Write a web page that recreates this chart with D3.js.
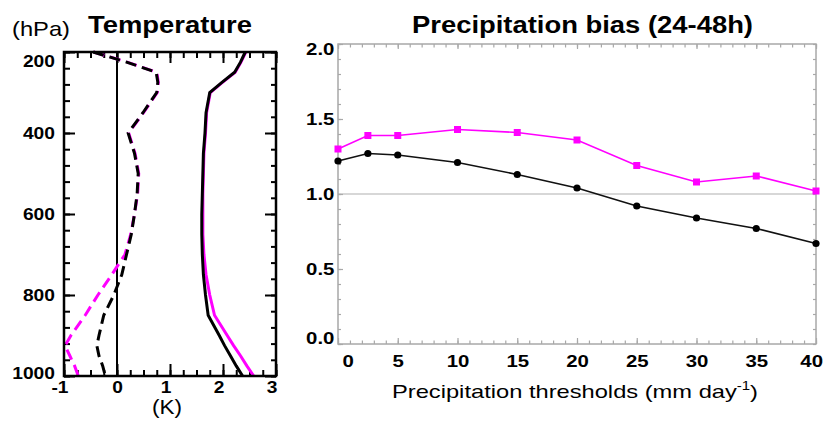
<!DOCTYPE html>
<html>
<head>
<meta charset="utf-8">
<script src="https://cdn.jsdelivr.net/npm/d3@7"></script>
<style>
  body { margin: 0; background: #fff; }
  svg { display: block; font-family: "Liberation Sans", Arial, sans-serif; }
</style>
</head>
<body>
<svg id="chart" width="825" height="424"></svg>
<script>
// ---- temperature profiles (K) on pressure levels (hPa)
const levels = [200, 225, 250, 275, 300, 350, 400, 450, 500, 550, 600, 650, 700, 750, 800, 850, 900, 925, 950, 975, 1000];
const solidBlack = [2.42, 2.33, 2.22, 1.98, 1.75, 1.68, 1.66, 1.63, 1.62, 1.61, 1.60, 1.60, 1.61, 1.63, 1.67, 1.72, 1.93, 2.03, 2.14, 2.25, 2.37];
const solidPink = [2.43, 2.34, 2.23, 1.99, 1.76, 1.69, 1.67, 1.64, 1.63, 1.62, 1.62, 1.62, 1.64, 1.68, 1.75, 1.84, 2.08, 2.20, 2.33, 2.45, 2.58];
const dashedBlack = [-0.45, 0.18, 0.74, 0.77, 0.75, 0.49, 0.21, 0.33, 0.40, 0.38, 0.33, 0.27, 0.18, 0.09, -0.06, -0.25, -0.34, -0.38, -0.34, -0.27, -0.22];
const dashedPink = [-0.44, 0.19, 0.75, 0.78, 0.76, 0.50, 0.22, 0.34, 0.41, 0.39, 0.33, 0.26, 0.15, -0.10, -0.36, -0.60, -0.87, -0.98, -0.89, -0.80, -0.73];
const tempTicks = [-1, 0, 1, 2, 3];
const presTicks = [200, 400, 600, 800, 1000];

// ---- precipitation bias
const thresholds = [0, 2.5, 5, 10, 15, 20, 25, 30, 35, 40];
const biasPink = [1.30, 1.39, 1.39, 1.43, 1.41, 1.36, 1.19, 1.08, 1.12, 1.02];
const biasBlack = [1.22, 1.27, 1.26, 1.21, 1.13, 1.04, 0.92, 0.84, 0.77, 0.67];
const threshTicks = [0, 5, 10, 15, 20, 25, 30, 35, 40];
const biasTicks = [0, 0.5, 1.0, 1.5, 2.0];

const pink = "#ff00ff";
const svg = d3.select("#chart");

function styleTicks(g, opts) {
  g.select(".domain").remove();
  g.selectAll(".tick line").attr("stroke", opts.color).attr("stroke-width", opts.width);
  g.selectAll(".tick text")
    .attr("fill", "#000")
    .attr("font-family", "Liberation Sans, Arial, sans-serif")
    .attr("font-size", 17)
    .attr("font-weight", "bold")
    .attr("transform", `scale(${opts.stretch},1)`);
}

// ================= Temperature panel =================
const tx = d3.scaleLinear().domain([-1, 3]).range([64, 276]);
const py = d3.scaleLinear().domain([200, 1000]).range([52, 376]);
const left = svg.append("g");

const minorP = d3.range(200, 1001, 40);
const minorT = d3.range(-1, 3.001, 0.25);
const tk = { color: "#000", width: 2, stretch: 1.13 };

left.append("g").attr("transform", `translate(${tx(-1)},0)`)
  .call(d3.axisLeft(py).tickValues(minorP).tickSize(-6).tickFormat(""))
  .call(styleTicks, tk);
left.append("g").attr("transform", `translate(${tx(-1)},0)`)
  .call(d3.axisLeft(py).tickValues(presTicks).tickSize(-11).tickPadding(8).tickFormat(d3.format("d")))
  .call(styleTicks, tk)
  .call((g) => g.selectAll(".tick text").attr("dy", (d) => d === 200 ? "0.85em" : d === 1000 ? "0.15em" : "0.32em"));
left.append("g").attr("transform", `translate(${tx(3)},0)`)
  .call(d3.axisRight(py).tickValues(minorP).tickSize(-5).tickFormat(""))
  .call(styleTicks, tk);
left.append("g").attr("transform", `translate(${tx(3)},0)`)
  .call(d3.axisRight(py).tickValues(presTicks).tickSize(-11).tickFormat(""))
  .call(styleTicks, tk);
left.append("g").attr("transform", `translate(0,${py(200)})`)
  .call(d3.axisTop(tx).tickValues(minorT).tickSize(-6).tickFormat(""))
  .call(styleTicks, tk);
left.append("g").attr("transform", `translate(0,${py(200)})`)
  .call(d3.axisTop(tx).tickValues(tempTicks).tickSize(-11).tickFormat(""))
  .call(styleTicks, tk);
left.append("g").attr("transform", `translate(0,${py(1000)})`)
  .call(d3.axisBottom(tx).tickValues(minorT).tickSize(-6).tickFormat(""))
  .call(styleTicks, tk);
left.append("g").attr("transform", `translate(0,${py(1000)})`)
  .call(d3.axisBottom(tx).tickValues(tempTicks).tickSize(-12).tickPadding(5))
  .call(styleTicks, tk)
  .call((g) => g.selectAll(".tick text").text((d) => d < 0 ? "-" + Math.abs(d) : d)
    .attr("x", (d) => d === 0 ? 0 : -4));

// zero line
left.append("line")
  .attr("x1", tx(0)).attr("x2", tx(0))
  .attr("y1", py(200)).attr("y2", py(1000))
  .attr("stroke", "#000").attr("stroke-width", 2);

const profile = d3.line().x((d) => tx(d[1])).y((d) => py(d[0]));
const profiles = [
  { vals: solidPink, color: pink, dash: null },
  { vals: solidBlack, color: "#000", dash: null },
  { vals: dashedPink, color: pink, dash: "11,6" },
  { vals: dashedBlack, color: "#000", dash: "11,6" }
];
left.selectAll(".profile").data(profiles).enter().append("path")
  .attr("class", "profile")
  .attr("d", (s) => profile(d3.zip(levels, s.vals)))
  .attr("fill", "none")
  .attr("stroke", (s) => s.color)
  .attr("stroke-width", 3)
  .attr("stroke-dasharray", (s) => s.dash);

left.append("rect")
  .attr("x", tx(-1)).attr("y", py(200))
  .attr("width", tx(3) - tx(-1)).attr("height", py(1000) - py(200))
  .attr("fill", "none").attr("stroke", "#000").attr("stroke-width", 2.5);

left.append("text").attr("x", 12).attr("y", 36)
  .attr("font-size", 21).attr("textLength", 58).attr("lengthAdjust", "spacingAndGlyphs")
  .text("(hPa)");
left.append("text").attr("x", 88).attr("y", 33)
  .attr("font-size", 23).attr("font-weight", "bold")
  .attr("textLength", 164).attr("lengthAdjust", "spacingAndGlyphs")
  .text("Temperature");
left.append("text").attr("x", 152).attr("y", 414)
  .attr("font-size", 20).attr("textLength", 30).attr("lengthAdjust", "spacingAndGlyphs")
  .text("(K)");

// ================= Precipitation bias panel =================
const bx = d3.scaleLinear().domain([0, 40]).range([338, 816]);
const by = d3.scaleLinear().domain([0, 2]).range([344, 44]);
const right = svg.append("g");
const gk = { color: "#a8a8a8", width: 1.2, stretch: 1.2 };

const minorX = d3.range(0, 40.001, 1);
const minorY = d3.range(0, 2.001, 0.1);

right.append("g").attr("transform", `translate(${bx(0)},0)`)
  .call(d3.axisLeft(by).tickValues(minorY).tickSize(-3).tickFormat(""))
  .call(styleTicks, gk);
right.append("g").attr("transform", `translate(${bx(0)},0)`)
  .call(d3.axisLeft(by).tickValues(biasTicks).tickSize(-5).tickPadding(3).tickFormat(d3.format(".1f")))
  .call(styleTicks, gk)
  .call((g) => g.selectAll(".tick text").attr("dy", (d) => d === 2 ? "0.62em" : d === 0 ? "-0.05em" : "0.32em"));
right.append("g").attr("transform", `translate(${bx(40)},0)`)
  .call(d3.axisRight(by).tickValues(minorY).tickSize(-3).tickFormat(""))
  .call(styleTicks, gk);
right.append("g").attr("transform", `translate(0,${by(2)})`)
  .call(d3.axisTop(bx).tickValues(minorX).tickSize(-3.5).tickFormat(""))
  .call(styleTicks, gk);
right.append("g").attr("transform", `translate(0,${by(2)})`)
  .call(d3.axisTop(bx).tickValues(threshTicks).tickSize(-5).tickFormat(""))
  .call(styleTicks, gk);
right.append("g").attr("transform", `translate(0,${by(0)})`)
  .call(d3.axisBottom(bx).tickValues(minorX).tickSize(-3.5).tickFormat(""))
  .call(styleTicks, gk);
right.append("g").attr("transform", `translate(0,${by(0)})`)
  .call(d3.axisBottom(bx).tickValues(threshTicks).tickSize(-6).tickPadding(11))
  .call(styleTicks, gk)
  .call((g) => g.selectAll(".tick text").attr("x", (d) => d === 0 ? 8 : d === 40 ? -4 : 0));

// reference line at 1.0
right.append("line")
  .attr("x1", bx(0)).attr("x2", bx(40))
  .attr("y1", by(1)).attr("y2", by(1))
  .attr("stroke", "#b0b0b0").attr("stroke-width", 1.2);

right.append("rect")
  .attr("x", bx(0)).attr("y", by(2))
  .attr("width", bx(40) - bx(0)).attr("height", by(0) - by(2))
  .attr("fill", "none").attr("stroke", "#a8a8a8").attr("stroke-width", 1.5);

const biasLine = d3.line().x((d) => bx(d[0])).y((d) => by(d[1]));

right.append("path")
  .attr("d", biasLine(d3.zip(thresholds, biasPink)))
  .attr("fill", "none").attr("stroke", pink).attr("stroke-width", 1.6);
right.selectAll(".sq").data(d3.zip(thresholds, biasPink)).enter().append("rect")
  .attr("class", "sq")
  .attr("x", (d) => bx(d[0]) - 3.5).attr("y", (d) => by(d[1]) - 3.5)
  .attr("width", 7).attr("height", 7).attr("fill", pink);

right.append("path")
  .attr("d", biasLine(d3.zip(thresholds, biasBlack)))
  .attr("fill", "none").attr("stroke", "#111").attr("stroke-width", 1.6);
right.selectAll(".dot").data(d3.zip(thresholds, biasBlack)).enter().append("circle")
  .attr("class", "dot")
  .attr("cx", (d) => bx(d[0])).attr("cy", (d) => by(d[1]))
  .attr("r", 3.6).attr("fill", "#000");

right.append("text").attr("x", 412).attr("y", 33)
  .attr("font-size", 23).attr("font-weight", "bold")
  .attr("textLength", 341).attr("lengthAdjust", "spacingAndGlyphs")
  .text("Precipitation bias (24-48h)");

const xl = right.append("text").attr("x", 392).attr("y", 398)
  .attr("font-size", 19).attr("textLength", 366).attr("lengthAdjust", "spacingAndGlyphs");
xl.append("tspan").text("Precipitation thresholds (mm day");
xl.append("tspan").attr("font-size", 12).attr("dy", -8).text("-1");
xl.append("tspan").attr("dy", 8).text(")");
</script>
</body>
</html>
